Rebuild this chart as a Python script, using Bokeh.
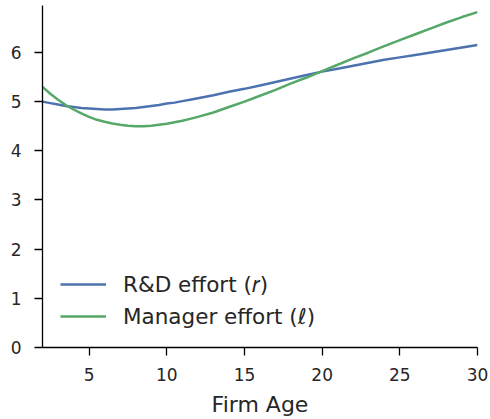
from bokeh.plotting import figure
from bokeh.models import SingleIntervalTicker, Range1d, Legend, LegendItem
from bokeh.embed import file_html
from bokeh.resources import INLINE

age = [2, 2.5, 3, 3.5, 4, 4.5, 5, 5.5, 6, 6.5, 7, 7.5, 8, 8.5, 9, 9.5,
       10, 10.5, 11, 11.5, 12, 13, 14, 15, 16, 17, 18, 19, 20, 21, 22,
       23, 24, 25, 26, 27, 28, 29, 30]
rd_effort = [5.00, 4.97, 4.94, 4.91, 4.89, 4.87, 4.86, 4.85, 4.84, 4.84,
             4.85, 4.86, 4.87, 4.89, 4.91, 4.93, 4.96, 4.98, 5.01, 5.04,
             5.07, 5.13, 5.20, 5.26, 5.33, 5.40, 5.47, 5.54, 5.61, 5.67,
             5.73, 5.79, 5.85, 5.90, 5.95, 6.00, 6.05, 6.10, 6.15]
mgr_effort = [5.30, 5.16, 5.04, 4.93, 4.84, 4.76, 4.69, 4.63, 4.59, 4.555,
              4.53, 4.51, 4.50, 4.50, 4.51, 4.53, 4.55, 4.58, 4.61, 4.65,
              4.69, 4.78, 4.89, 5.00, 5.12, 5.24, 5.37, 5.49, 5.62, 5.75,
              5.88, 6.00, 6.13, 6.25, 6.37, 6.49, 6.61, 6.72, 6.82]
x_ticks_interval = 5
y_ticks_interval = 1

BLUE = "#4C72B0"
GREEN = "#55A868"
TXT = "#262626"
FONT = "DejaVu Sans"

p = figure(width=490, height=419, output_backend="svg", toolbar_location=None,
           x_range=Range1d(2, 30), y_range=Range1d(0, 6.955),
           min_border_left=42, min_border_right=13, min_border_top=5,
           min_border_bottom=70)
p.outline_line_color = None
p.grid.visible = False
p.background_fill_color = "white"

r1 = p.line(age, rd_effort, line_color=BLUE, line_width=2.5)
r2 = p.line(age, mgr_effort, line_color=GREEN, line_width=2.5)

for ax in (p.xaxis[0], p.yaxis[0]):
    ax.axis_line_color = "black"
    ax.axis_line_width = 1.3
    ax.major_tick_line_color = "black"
    ax.major_tick_line_width = 1.3
    ax.major_tick_in = 0
    ax.major_tick_out = 8
    ax.minor_tick_line_color = None
    ax.major_label_text_font = FONT
    ax.major_label_text_font_size = "17px"
    ax.major_label_text_color = TXT
    ax.axis_label_text_font = FONT
    ax.axis_label_text_font_style = "normal"
    ax.axis_label_text_color = TXT

p.xaxis[0].ticker = SingleIntervalTicker(interval=x_ticks_interval)
p.yaxis[0].ticker = SingleIntervalTicker(interval=y_ticks_interval)
p.xaxis[0].major_label_standoff = 12
p.yaxis[0].major_label_standoff = 13
p.xaxis[0].axis_label = "Firm Age"
p.xaxis[0].axis_label_text_font_size = "22px"
p.xaxis[0].axis_label_standoff = 8

legend = Legend(items=[LegendItem(label="R&D effort (\U0001D45F)", renderers=[r1]),
                       LegendItem(label="Manager effort (\u2113)", renderers=[r2])],
                location="bottom_left")
legend.border_line_color = None
legend.background_fill_alpha = 0
legend.label_text_font = FONT
legend.label_text_font_size = "21.5px"
legend.label_text_color = TXT
legend.glyph_width = 46
legend.glyph_height = 26
legend.label_height = 26
legend.spacing = 6
legend.padding = 8
legend.margin = 18
legend.label_standoff = 17
p.add_layout(legend, "center")

open("out.html", "w").write(file_html(p, INLINE))
